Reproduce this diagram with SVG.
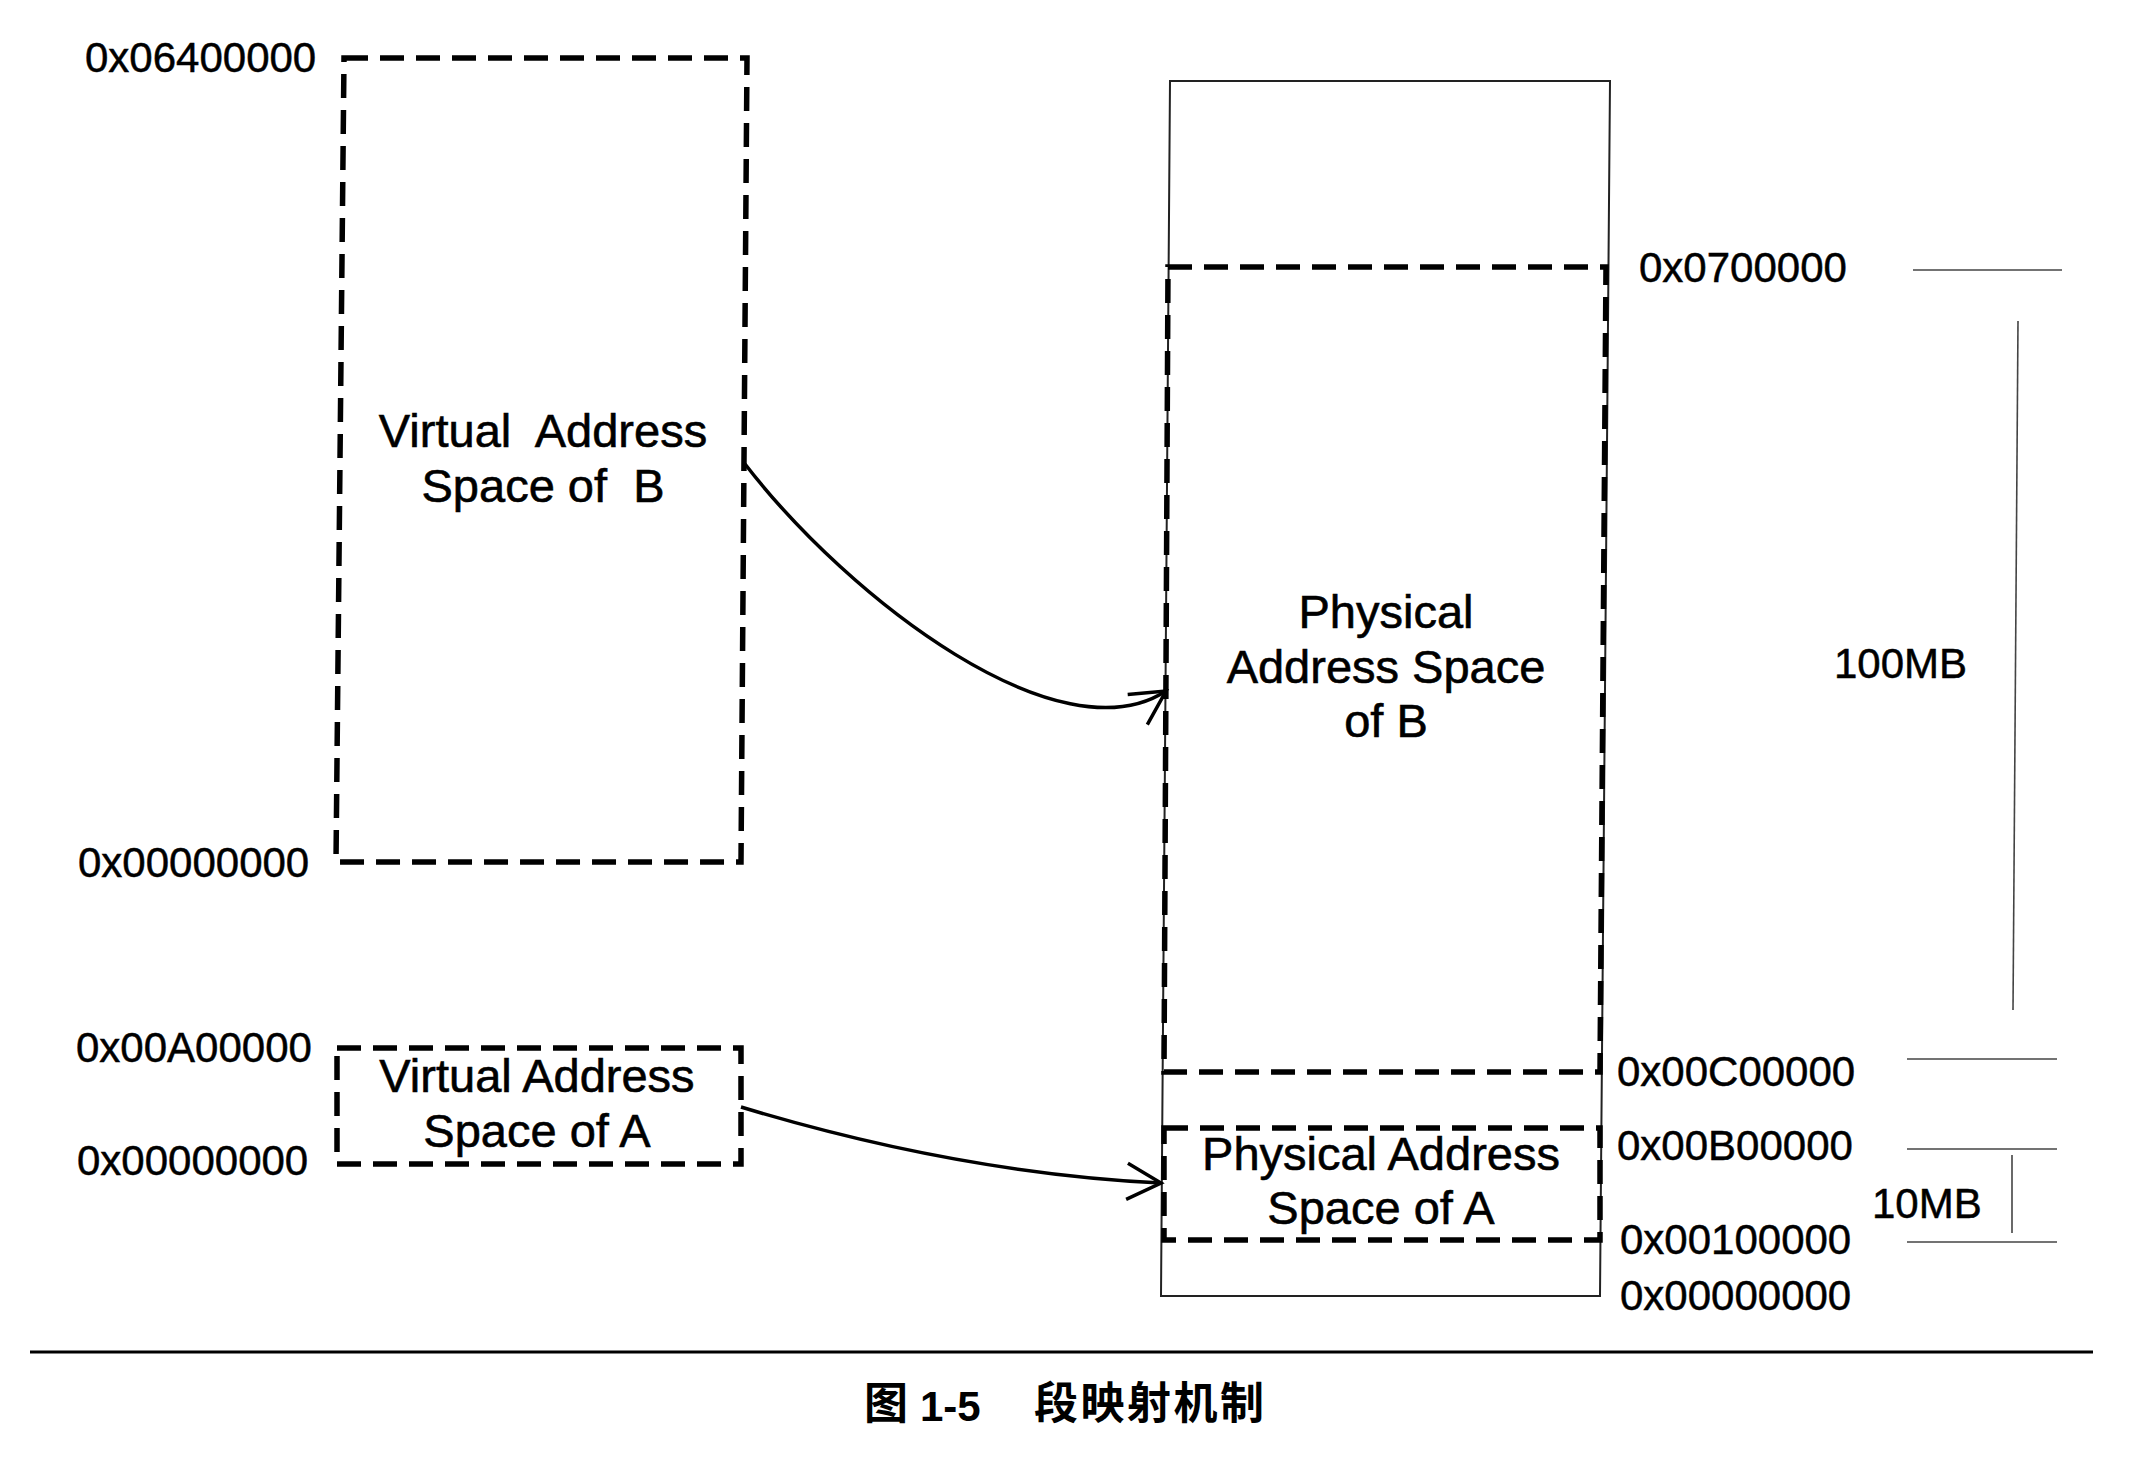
<svg xmlns="http://www.w3.org/2000/svg" width="2138" height="1462" viewBox="0 0 2138 1462">
<style>
.lbl{font-family:"Liberation Sans",Arial,sans-serif;font-size:42px;fill:#000;stroke:#000;stroke-width:0.5}
.box{font-family:"Liberation Sans",Arial,sans-serif;font-size:47px;fill:#000;stroke:#000;stroke-width:0.6;text-anchor:middle;white-space:pre}
.dash{fill:none;stroke:#000;stroke-width:5.5;stroke-dasharray:24 12}
.thin{fill:none;stroke:#222;stroke-width:2}
.tick{fill:none;stroke:#444;stroke-width:1.6}
.conn{fill:none;stroke:#000;stroke-width:3.5}
.cap{font-family:"Noto Sans CJK SC","Liberation Sans",sans-serif;font-size:44px;font-weight:bold;fill:#000}
.capn{font-family:"Liberation Sans",Arial,sans-serif;font-size:42px;font-weight:bold;fill:#000}
</style>
<defs>
<marker id="arr" markerUnits="userSpaceOnUse" markerWidth="60" markerHeight="60" refX="0" refY="0" viewBox="-45 -30 50 60" orient="auto">
<path d="M-34,-18 L0,0 L-34,18" fill="none" stroke="#000" stroke-width="3.5"/>
</marker>
</defs>
<rect width="2138" height="1462" fill="#fff"/>

<g id="physical-memory">
<path class="thin" d="M1170,81 L1610,81 L1600,1296 L1161,1296 Z"/>
</g>

<g id="virtual-b">
<path class="dash" d="M344,58 L747,58 L741,862 L336,862 Z"/>
<text class="box" x="543" y="447">Virtual  Address</text>
<text class="box" x="543" y="502">Space of  B</text>
<text class="lbl" x="85" y="72">0x06400000</text>
<text class="lbl" x="78" y="877">0x00000000</text>
</g>

<g id="virtual-a">
<path class="dash" d="M337,1048 L741,1048 L741,1164 L337,1164 Z"/>
<text class="box" x="537" y="1092">Virtual Address</text>
<text class="box" x="537" y="1147">Space of A</text>
<text class="lbl" x="76" y="1062">0x00A00000</text>
<text class="lbl" x="77" y="1175">0x00000000</text>
</g>

<g id="physical-b">
<path class="dash" d="M1168,267 L1606,267 L1600,1072 L1164,1072 Z"/>
<text class="box" x="1386" y="628">Physical</text>
<text class="box" x="1386" y="683">Address Space</text>
<text class="box" x="1386" y="737">of B</text>
</g>

<g id="physical-a">
<path class="dash" d="M1164,1128 L1600,1128 L1600,1240 L1164,1240 Z"/>
<text class="box" x="1381" y="1170">Physical Address</text>
<text class="box" x="1381" y="1224">Space of A</text>
</g>

<g id="addresses">
<text class="lbl" x="1639" y="282">0x0700000</text>
<text class="lbl" x="1617" y="1086">0x00C00000</text>
<text class="lbl" x="1617" y="1160">0x00B00000</text>
<text class="lbl" x="1620" y="1254">0x00100000</text>
<text class="lbl" x="1620" y="1310">0x00000000</text>
</g>

<g id="size-100mb">
<path class="tick" d="M1913,270 L2062,270"/>
<path class="tick" d="M2018,321 L2013,1010"/>
<path class="tick" d="M1907,1059 L2057,1059"/>
<text class="lbl" x="1834" y="678">100MB</text>
</g>

<g id="size-10mb">
<path class="tick" d="M1907,1149 L2057,1149"/>
<path class="tick" d="M2012,1155 L2012,1233"/>
<path class="tick" d="M1907,1242 L2057,1242"/>
<text class="lbl" x="1872" y="1218">10MB</text>
</g>

<g id="connectors">
<path class="conn" d="M745,464 C850,600 1060,760 1166,691" marker-end="url(#arr)"/>
<path class="conn" d="M741,1107 C850,1140 1000,1175 1161,1183" marker-end="url(#arr)"/>
</g>

<g id="caption">
<path d="M30,1352 L2093,1352" stroke="#000" stroke-width="3"/>
<text class="cap" x="864" y="1419">图</text>
<text class="capn" x="920" y="1421">1-5</text>
<text class="cap" x="1034" y="1419" textLength="230">段映射机制</text>
</g>
</svg>
